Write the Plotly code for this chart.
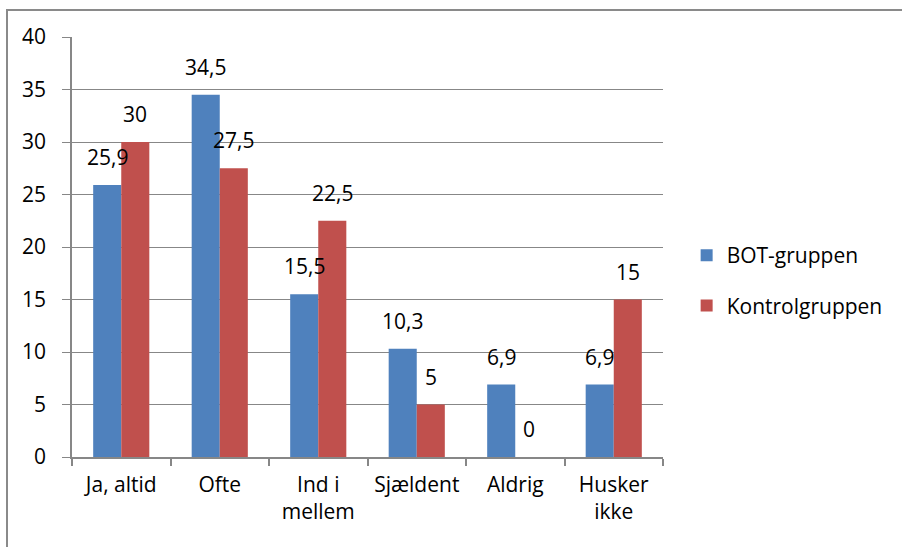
import plotly.graph_objects as go

categories = ["Ja, altid", "Ofte", "Ind i<br>mellem", "Sjældent", "Aldrig", "Husker<br>ikke"]
bot_values = [25.9, 34.5, 15.5, 10.3, 6.9, 6.9]
kontrol_values = [30, 27.5, 22.5, 5, 0, 15]
series_names = ["BOT-gruppen", "Kontrolgruppen"]
y_ticks = [0, 5, 10, 15, 20, 25, 30, 35, 40]

BLUE = "#4F81BD"
RED = "#C0504D"
FONT = "'Open Sans', sans-serif"
FS = 21
GRID = "#878787"

def fmt(v):
    s = f"{v:g}"
    return s.replace(".", ",")

fig = go.Figure()
fig.add_trace(go.Bar(x=categories, y=bot_values, name=series_names[0],
                     marker=dict(color=BLUE, line=dict(width=0)),
                     legendgroup="a"))
fig.add_trace(go.Bar(x=categories, y=kontrol_values, name=series_names[1],
                     marker=dict(color=RED, line=dict(width=0)),
                     legendgroup="b"))

for cat, v in zip(categories, bot_values):
    fig.add_annotation(x=cat, y=v, xref="x", yref="y", text=fmt(v), showarrow=False,
                       xshift=-14, yshift=28, yanchor="middle",
                       font=dict(family=FONT, size=FS, color="#000"))
for cat, v in zip(categories, kontrol_values):
    fig.add_annotation(x=cat, y=v, xref="x", yref="y", text=fmt(v), showarrow=False,
                       xshift=14, yshift=28, yanchor="middle",
                       font=dict(family=FONT, size=FS, color="#000"))

# outer chart border
fig.add_shape(type="rect", xref="paper", yref="paper",
              x0=(7 - 72) / 591, x1=1.6, y0=-0.5, y1=(457 - 10) / 420,
              line=dict(color="#8a8a8a", width=2), layer="below")

fig.update_layout(
    width=902, height=547,
    margin=dict(l=72, r=239, t=37, b=90),
    paper_bgcolor="white", plot_bgcolor="white",
    barmode="group", bargap=0.43, bargroupgap=0,
    font=dict(family=FONT, size=FS, color="#000"),
    showlegend=True,
    legend=dict(x=1.04, y=0.42, xanchor="left", yanchor="middle",
                font=dict(family=FONT, size=FS), tracegroupgap=20,
                itemwidth=30, bgcolor="rgba(0,0,0,0)"),
    xaxis=dict(type="category", tickson="boundaries", ticks="outside",
               ticklen=7, tickcolor=GRID, tickwidth=1.5,
               showline=True, linecolor=GRID, linewidth=1.5,
               showgrid=False, tickfont=dict(family=FONT, size=FS),
               ticklabelstandoff=8),
    yaxis=dict(range=[0, 40], tickvals=y_ticks, ticks="outside", ticklen=8,
               tickcolor=GRID, showgrid=True, gridcolor=GRID, gridwidth=1,
               showline=True, linecolor=GRID, linewidth=1.5, zeroline=False,
               tickfont=dict(family=FONT, size=FS), ticklabelstandoff=12),
)

fig.write_html("out.html", config={"displayModeBar": False},
               post_script="document.body.style.margin='0';")
